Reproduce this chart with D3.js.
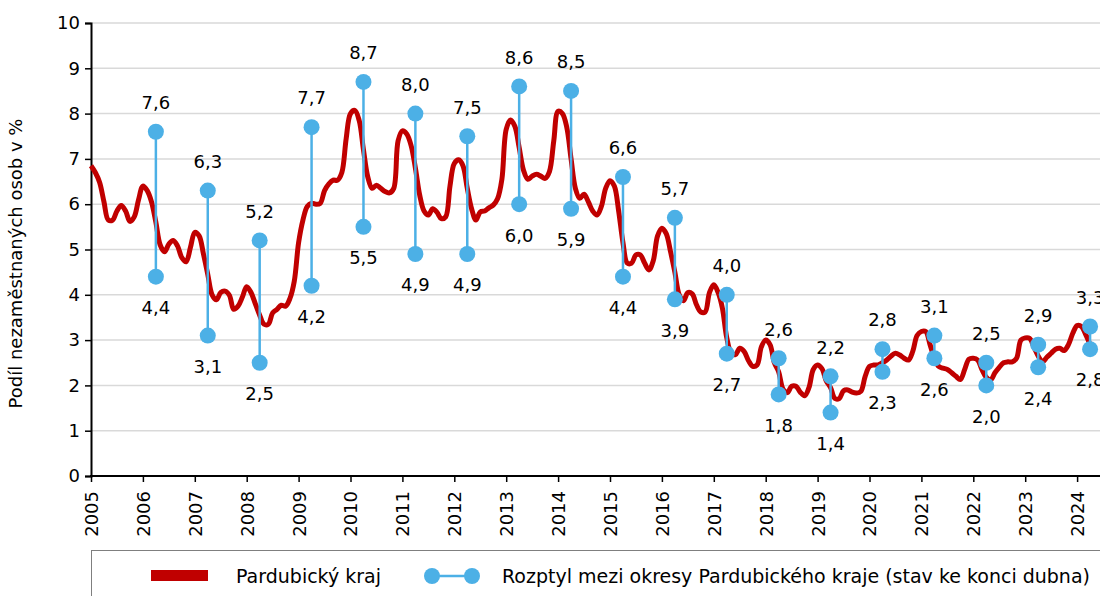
<!DOCTYPE html>
<html>
<head>
<meta charset="utf-8">
<script src="https://cdn.jsdelivr.net/npm/d3@7"></script>
<style>
  body { margin: 0; background: #fff; }
  svg { display: block; font-family: "DejaVu Sans", Verdana, sans-serif; }
</style>
</head>
<body>
<div id="chart"></div>
<script>
// podíl nezaměstnaných osob, Pardubický kraj, měsíčně leden 2005 – duben 2024
const years = d3.range(2005, 2025);
const share = [
  6.85, 6.7, 6.48, 6.05, 5.65, 5.65, 5.85, 5.97, 5.85, 5.62, 5.72, 6.1,      // 2005
  6.4, 6.3, 6.05, 5.6, 5.1, 4.95, 5.12, 5.2, 5.08, 4.82, 4.73, 5.05,        // 2006
  5.38, 5.3, 4.9, 4.45, 4.0, 3.89, 4.05, 4.08, 3.99, 3.68, 3.75, 3.95,       // 2007
  4.18, 4.05, 3.8, 3.55, 3.35, 3.35, 3.6, 3.68, 3.77, 3.75, 3.92, 4.3,       // 2008
  5.15, 5.65, 5.95, 6.02, 6.0, 6.02, 6.3, 6.45, 6.53, 6.53, 6.7, 7.45,       // 2009
  8.0, 8.07, 7.85, 7.2, 6.6, 6.35, 6.42, 6.35, 6.28, 6.25, 6.35, 7.4,        // 2010
  7.62, 7.55, 7.3, 6.8, 6.2, 5.85, 5.76, 5.9, 5.82, 5.68, 5.72, 6.4,         // 2011
  6.9, 6.98, 6.85, 6.35, 5.9, 5.65, 5.83, 5.85, 5.92, 5.98, 6.12, 6.55,      // 2012
  7.65, 7.86, 7.72, 7.25, 6.75, 6.55, 6.62, 6.66, 6.62, 6.57, 6.72, 7.4,     // 2013
  8.05, 8.0, 7.7, 7.0, 6.35, 6.13, 6.22, 6.05, 5.85, 5.76, 5.95, 6.35,       // 2014
  6.52, 6.4, 5.85, 5.15, 4.7, 4.7, 4.88, 4.88, 4.7, 4.55, 4.75, 5.3,         // 2015
  5.47, 5.35, 4.95, 4.5, 4.0, 3.87, 4.05, 4.02, 3.78, 3.62, 3.62, 4.05,      // 2016
  4.22, 4.05, 3.7, 3.05, 2.72, 2.68, 2.82, 2.75, 2.55, 2.42, 2.45, 2.85,     // 2017
  3.0, 2.9, 2.5, 2.3, 1.92, 1.84, 1.98, 1.98, 1.85, 1.77, 1.95, 2.35,        // 2018
  2.45, 2.37, 2.1, 1.95, 1.71, 1.71, 1.88, 1.9, 1.85, 1.83, 1.87, 2.2,       // 2019
  2.42, 2.45, 2.45, 2.5, 2.56, 2.65, 2.71, 2.67, 2.6, 2.56, 2.75, 3.1,       // 2020
  3.19, 3.19, 2.9, 2.6, 2.42, 2.38, 2.35, 2.28, 2.2, 2.13, 2.35, 2.58,       // 2021
  2.6, 2.56, 2.35, 2.18, 2.12, 2.28, 2.4, 2.5, 2.52, 2.52, 2.6, 3.0,         // 2022
  3.05, 3.04, 2.85, 2.65, 2.52, 2.62, 2.71, 2.8, 2.82, 2.77, 2.9, 3.15,      // 2023
  3.32, 3.3, 3.12, 2.9                                                       // 2024
];

// rozptyl mezi okresy, stav ke konci dubna
const rangeYears = d3.range(2006, 2025);
const rangeMax = [7.6, 6.3, 5.2, 7.7, 8.7, 8.0, 7.5, 8.6, 8.5, 6.6, 5.7, 4.0, 2.6, 2.2, 2.8, 3.1, 2.5, 2.9, 3.3];
const rangeMin = [4.4, 3.1, 2.5, 4.2, 5.5, 4.9, 4.9, 6.0, 5.9, 4.4, 3.9, 2.7, 1.8, 1.4, 2.3, 2.6, 2.0, 2.4, 2.8];
const yTicks = d3.range(0, 11);

const width = 1100, height = 596;
const margin = {top: 23, left: 91, bottom: 476};
const red = "#c00000", blue = "#4cb0e6";

const svg = d3.select("#chart").append("svg")
  .attr("width", width).attr("height", height);

// měsíc od ledna 2005
const x = d3.scaleLinear().domain([0, 12]).range([margin.left, margin.left + 51.9]);
const y = d3.scaleLinear().domain([0, 10]).range([margin.bottom, margin.top]);
const monthIdx = (yr, m) => (yr - 2005) * 12 + m;

// mřížka
svg.append("g")
  .selectAll("line").data(yTicks.slice(1)).join("line")
  .attr("x1", margin.left).attr("x2", width)
  .attr("y1", d => y(d)).attr("y2", d => y(d))
  .attr("stroke", "#d9d9d9").attr("stroke-width", 1.5);

// osa y
const yAxis = svg.append("g")
  .attr("transform", `translate(${margin.left},0)`)
  .call(d3.axisLeft(y).tickValues(yTicks).tickSize(6).tickPadding(5));
yAxis.attr("font-family", null).attr("font-size", null);
yAxis.select(".domain").attr("stroke", "#000").attr("stroke-width", 2);
yAxis.selectAll(".tick line").attr("stroke", "#000").attr("stroke-width", 1.5);
yAxis.selectAll(".tick text").style("font-size", "18px").attr("fill", "#000");

svg.append("text")
  .attr("transform", `translate(22,${(margin.top + margin.bottom) / 2 + 14}) rotate(-90)`)
  .attr("text-anchor", "middle")
  .style("font-size", "18px")
  .text("Podíl nezaměstnaných osob v %");

// osa x
const xAxis = svg.append("g")
  .attr("transform", `translate(0,${margin.bottom})`)
  .call(d3.axisBottom(x)
    .tickValues(years.map(yr => monthIdx(yr, 0)))
    .tickFormat(() => "")
    .tickSize(6));
xAxis.attr("font-family", null).attr("font-size", null);
xAxis.select(".domain").remove();
xAxis.append("line").attr("x1", margin.left - 1).attr("x2", width)
  .attr("stroke", "#000").attr("stroke-width", 2);
xAxis.selectAll(".tick line").attr("stroke", "#000").attr("stroke-width", 1.5);
xAxis.selectAll(".tick text").remove();
xAxis.selectAll(".tick").append("text")
  .attr("transform", "translate(0,15) rotate(-90)")
  .attr("x", 0).attr("y", 0).attr("dy", "0.36em")
  .style("text-anchor", "end")
  .style("font-size", "18px")
  .attr("fill", "#000")
  .text((d, i) => years[i]);

// Pardubický kraj
const line = d3.line()
  .x((d, i) => x(i))
  .y(d => y(d))
  .curve(d3.curveCatmullRom);

svg.append("path")
  .datum(share)
  .attr("fill", "none")
  .attr("stroke", red)
  .attr("stroke-width", 5)
  .attr("stroke-linejoin", "round")
  .attr("d", line);

// rozptyl mezi okresy
const ranges = rangeYears.map((yr, i) => ({yr, hi: rangeMax[i], lo: rangeMin[i]}));
const fmt = v => d3.format(".1f")(v).replace(".", ",");

const rg = svg.append("g").selectAll("g").data(ranges).join("g")
  .attr("transform", d => `translate(${x(monthIdx(d.yr, 3))},0)`);

rg.append("line")
  .attr("y1", d => y(d.hi)).attr("y2", d => y(d.lo))
  .attr("stroke", blue).attr("stroke-width", 2.5);
rg.selectAll("circle").data(d => [d.hi, d.lo]).join("circle")
  .attr("cy", d => y(d)).attr("r", 8).attr("fill", blue);
rg.append("text")
  .attr("y", d => y(d.hi) - 29).attr("dy", "0.35em")
  .attr("text-anchor", "middle").style("font-size", "18px")
  .text(d => fmt(d.hi));
rg.append("text")
  .attr("y", d => y(d.lo) + 31).attr("dy", "0.35em")
  .attr("text-anchor", "middle").style("font-size", "18px")
  .text(d => fmt(d.lo));

// legenda
const lg = svg.append("g");
lg.append("rect")
  .attr("x", margin.left + 0.5).attr("y", 550.5)
  .attr("width", width).attr("height", 100)
  .attr("fill", "none").attr("stroke", "#7f7f7f").attr("stroke-width", 1);
lg.append("rect")
  .attr("x", 151).attr("y", 570).attr("width", 57).attr("height", 11)
  .attr("fill", red);
lg.append("text")
  .attr("x", 236).attr("y", 576).attr("dy", "0.35em")
  .style("font-size", "19px").text("Pardubický kraj");
lg.append("line")
  .attr("x1", 432).attr("x2", 472).attr("y1", 576).attr("y2", 576)
  .attr("stroke", blue).attr("stroke-width", 2.5);
lg.selectAll("circle").data([432, 472]).join("circle")
  .attr("cx", d => d).attr("cy", 576).attr("r", 8).attr("fill", blue);
lg.append("text")
  .attr("x", 502).attr("y", 576).attr("dy", "0.35em")
  .style("font-size", "19px")
  .text("Rozptyl mezi okresy Pardubického kraje (stav ke konci dubna)");
</script>
</body>
</html>
